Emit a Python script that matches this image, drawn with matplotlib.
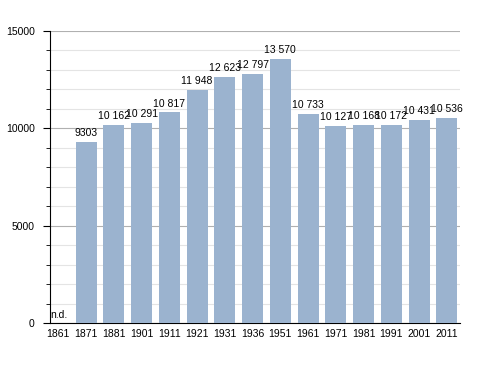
import matplotlib.pyplot as plt
from matplotlib.ticker import MultipleLocator

# Data
years = ["1861", "1871", "1881", "1901", "1911", "1921", "1931", "1936",
         "1951", "1961", "1971", "1981", "1991", "2001", "2011"]
population = [None, 9303, 10162, 10291, 10817, 11948, 12623, 12797,
              13570, 10733, 10127, 10168, 10172, 10431, 10536]

BAR_COLOR = "#9bb3cf"
FS = 7.5

plt.rcParams["font.family"] = ["Liberation Sans", "DejaVu Sans"]

fig = plt.figure(figsize=(4.88, 3.73), dpi=100)
ax = fig.add_axes([0.1025, 0.134, 0.84, 0.783])

x = list(range(len(years)))
heights = [v if v is not None else 0 for v in population]
ax.bar(x, heights, width=0.75, color=BAR_COLOR, zorder=3)

for i, v in enumerate(population):
    if v is None:
        ax.text(i - 0.29, 150, "n.d.", ha="left", va="bottom", fontsize=FS, zorder=4)
    else:
        label = f"{v:,}".replace(",", " ") if v >= 10000 else str(v)
        ax.text(i, v + 200, label, ha="center", va="bottom", fontsize=FS, zorder=4)

ax.set_xlim(-0.3, 14.47)
ax.set_ylim(0, 15000)
ax.set_xticks(x)
ax.set_xticklabels(years, fontsize=FS)
ax.yaxis.set_major_locator(MultipleLocator(5000))
ax.yaxis.set_minor_locator(MultipleLocator(1000))
ax.tick_params(axis="y", which="major", labelsize=FS, length=5, direction="out", pad=6)
ax.tick_params(axis="y", which="minor", length=3, direction="out")
ax.tick_params(axis="x", length=0, pad=4)

ax.grid(axis="y", which="major", color="#b0b0b0", linewidth=0.8, zorder=0)
ax.grid(axis="y", which="minor", color="#e4e4e4", linewidth=0.8, zorder=0)

for side in ["top", "right"]:
    ax.spines[side].set_visible(False)
ax.spines["left"].set_color("black")
ax.spines["bottom"].set_color("black")

fig.savefig("out.png", dpi=100)
